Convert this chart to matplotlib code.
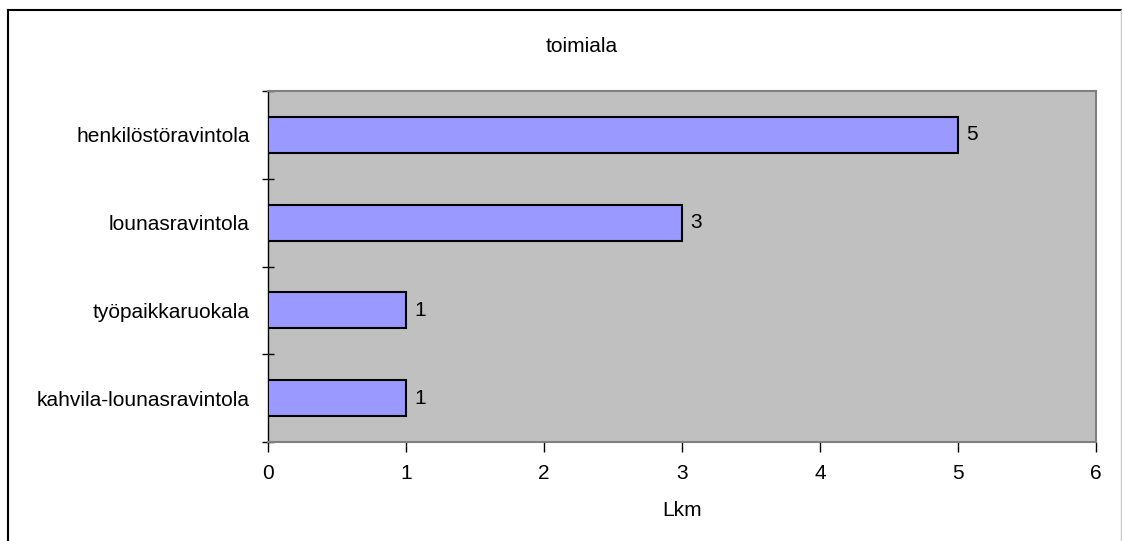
import matplotlib.pyplot as plt
from matplotlib.lines import Line2D

plt.rcParams['font.family'] = ['Liberation Sans', 'DejaVu Sans']

categories = ['kahvila-lounasravintola', 'työpaikkaruokala', 'lounasravintola', 'henkilöstöravintola']
counts = [1, 1, 3, 5]
xticks = [0, 1, 2, 3, 4, 5, 6]

fs = 15

fig = plt.figure(figsize=(11.22, 5.41), dpi=100)
ax = fig.add_axes([268/1122, 1-442/541, (1096-268)/1122, (442-91)/541])
ax.set_facecolor('#C0C0C0')

ypos = list(range(len(categories)))
ax.barh(ypos, counts, height=0.41, color='#9999FF', edgecolor='black', linewidth=1.5, zorder=3)
for y, v in zip(ypos, counts):
    ax.text(v + 0.06, y, str(v), va='center', ha='left', fontsize=fs, zorder=4)

ax.set_xlim(0, 6)
ax.set_ylim(-0.5, len(categories) - 0.5)
ax.set_xticks(xticks)
ax.set_yticks(ypos)
ax.set_yticklabels(categories)
ax.set_yticks([i - 0.5 for i in range(len(categories) + 1)], minor=True)
ax.tick_params(axis='y', which='major', length=0, pad=13, labelsize=fs)
ax.tick_params(axis='y', which='minor', length=9, direction='inout', width=1)
ax.tick_params(axis='x', which='major', length=7, direction='out', width=1, pad=9, labelsize=fs)

for s in ['top', 'right', 'bottom']:
    ax.spines[s].set_color('#808080')
    ax.spines[s].set_linewidth(1.5)
ax.spines['left'].set_color('black')
ax.spines['left'].set_linewidth(1)

ax.set_xlabel('Lkm', fontsize=fs, labelpad=13)
fig.text(582/1122, 1-47/541, 'toimiala', ha='center', va='center', fontsize=fs)

# outer chart border
fig.add_artist(Line2D([8/1122, 8/1122], [0, 1-10/541], color='black', lw=1.5, transform=fig.transFigure))
fig.add_artist(Line2D([8/1122, 1121/1122], [1-10/541, 1-10/541], color='black', lw=1.5, transform=fig.transFigure))
fig.add_artist(Line2D([1121/1122, 1121/1122], [0, 1-10/541], color='#C8C8C8', lw=1, transform=fig.transFigure))

fig.savefig('out.png', dpi=100)
